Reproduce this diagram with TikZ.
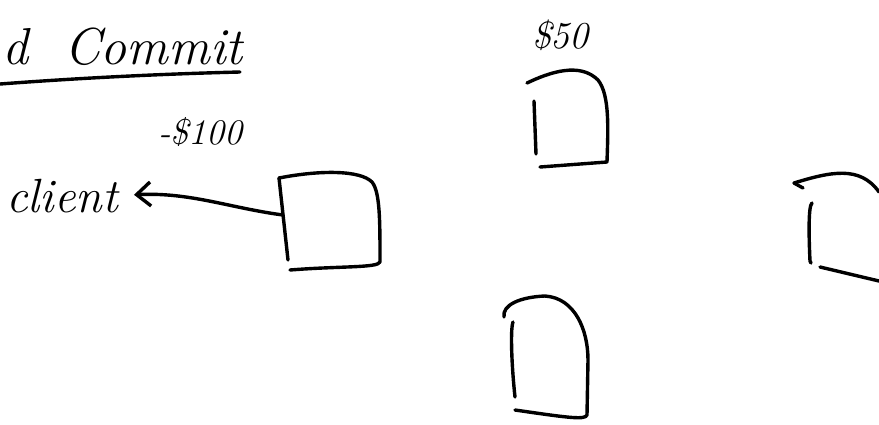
\documentclass[tikz,border=0pt]{standalone}
\usetikzlibrary{arrows.meta}
\tikzset{
  ink/.style={line width=3.4pt, line cap=round, line join=round, black},
  hand/.style={font=\itshape, inner sep=0pt, anchor=base west},
}
\begin{document}
\begin{tikzpicture}[x=1pt,y=-1pt]
\useasboundingbox (0,0) rectangle (879,424);
% title
\node[hand, font=\fontsize{52}{52}\selectfont\itshape] (title) at (2,64) {d\ \ Commit};
\draw[ink] (0,84) .. controls (80,78) and (160,74) .. (240,72);
% labels
\node[hand, font=\fontsize{36}{36}\selectfont\itshape] (m100) at (158,144) {-\$100};
\node[hand, font=\fontsize{48}{48}\selectfont\itshape] (client) at (6,212) {client};
\node[hand, font=\fontsize{38}{38}\selectfont\itshape] (m50) at (532,48) {\$50};
% box 1
\coordinate (b1w) at (283,215);
\draw[ink] (279,178) -- (288,260);
\draw[ink] (279,178) .. controls (320,170) and (360,170) .. (372,182) .. controls (380,192) and (380,220) .. (380,262) .. controls (378,268) and (340,266) .. (290,270);
% arrow box1 -> client
\draw[ink, shorten >=16pt, -{Straight Barb[length=14pt,width=24pt,line width=3.4pt]}] (b1w) .. controls (230,208) and (190,192) .. (client.east);
% box 2
\draw[ink] (527,83) .. controls (550,72) and (580,62) .. (598,80) .. controls (610,95) and (608,130) .. (607,162) -- (540,167);
\draw[ink] (534,101) -- (536,154);
% box 3
\draw[ink] (794,183) -- (803,188);
\draw[ink] (794,183) .. controls (830,172) and (860,165) .. (879,192);
\draw[ink] (812,203) .. controls (808,206) and (809,240) .. (810,261) -- (811,263);
\draw[ink] (820,267) -- (879,281);
% box 4
\draw[ink] (504,317) .. controls (502,305) and (520,297) .. (545,296) .. controls (575,298) and (588,330) .. (588,360) -- (587,415) .. controls (585,420) and (570,418) .. (515,410);
\draw[ink] (513,322) .. controls (510,330) and (512,370) .. (515,397);
\end{tikzpicture}
\end{document}
